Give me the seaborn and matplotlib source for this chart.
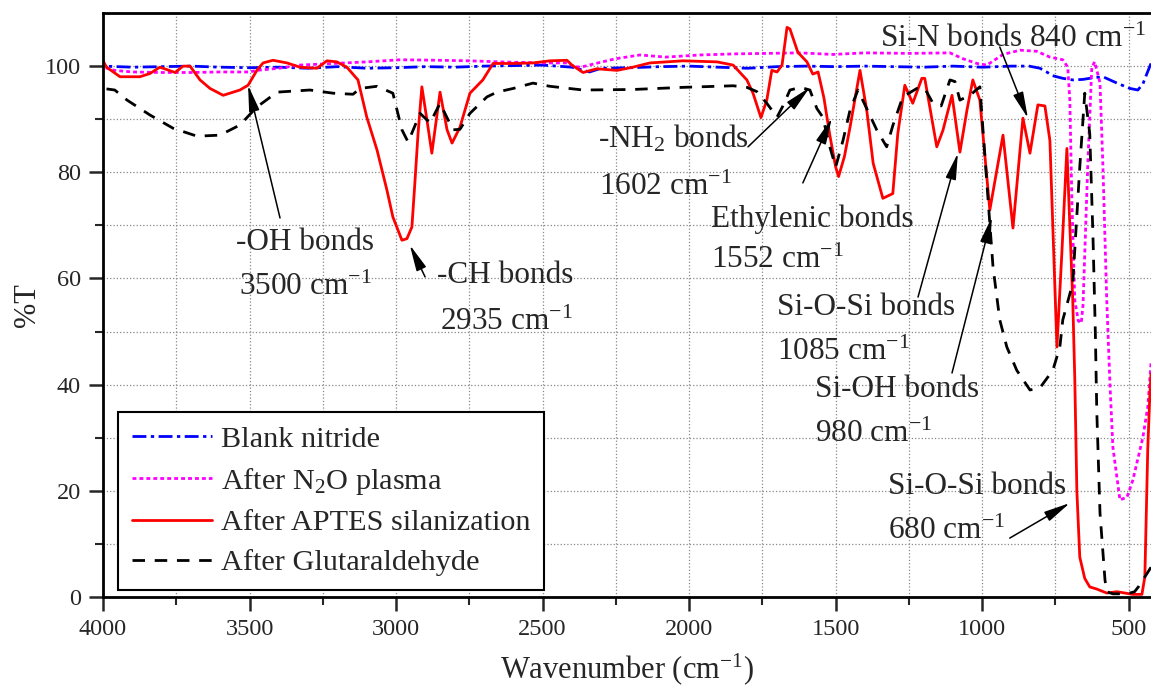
import numpy as np
import pandas as pd
import matplotlib
matplotlib.use("Agg")
import matplotlib.pyplot as plt
import seaborn as sns

# Espectros FTIR (numero de onda em cm-1, %T)
wn_blank = [4000, 3900, 3800, 3700, 3600, 3500, 3400, 3300, 3200, 3100, 3000, 2900, 2800, 2700,
            2600, 2500, 2400, 2340, 2300, 2200, 2100, 2000, 1900, 1800, 1700, 1600, 1500, 1400,
            1300, 1200, 1100, 1000, 900, 840, 803, 780, 760, 725, 691, 656, 622, 588, 540, 496,
            469, 452, 435, 424]
t_blank = [100.0, 99.8, 99.9, 100.0, 99.8, 99.7, 99.8, 99.6, 99.9, 99.6, 99.7, 99.9, 99.8, 100.0,
           100.1, 100.2, 99.8, 98.9, 99.6, 99.7, 99.9, 100.0, 99.8, 99.6, 99.9, 100.0, 99.9, 100.0,
           99.9, 99.8, 100.0, 99.8, 100.0, 100.0, 99.6, 98.9, 98.2, 97.7, 97.4, 97.5, 97.8, 98.0,
           96.8, 95.8, 95.5, 96.6, 99.0, 100.5]

wn_n2o = [4000, 3960, 3900, 3800, 3700, 3600, 3500, 3475, 3400, 3328, 3250, 3100, 2987, 2850,
          2748, 2645, 2500, 2417, 2390, 2370, 2304, 2250, 2168, 2080, 1963, 1850, 1735, 1622,
          1509, 1400, 1250, 1110, 1066, 1018, 984, 929, 871, 814, 769, 725, 708, 701, 694, 684,
          672, 662, 656, 640, 626, 616, 598, 588, 575, 564, 554, 530, 506, 486, 452, 435, 424]
t_n2o = [99.8, 99.2, 98.9, 98.8, 98.8, 98.9, 98.9, 99.2, 99.6, 100.2, 100.4, 100.8, 101.2, 101.1,
         101.0, 100.8, 100.6, 100.6, 99.9, 99.8, 100.7, 101.4, 102.1, 101.7, 102.1, 102.3, 102.4,
         102.5, 102.2, 102.5, 102.4, 102.5, 101.4, 100.5, 100.2, 102.2, 103.0, 102.8, 101.7, 101.2,
         99.8, 93.6, 74.8, 55.9, 52.0, 51.6, 55.0, 81.0, 99.8, 100.8, 96.8, 81.0, 55.9, 40.0, 28.2,
         18.3, 18.8, 22.0, 30.0, 35.8, 44.0]

wn_aptes = [4000, 3988, 3942, 3874, 3840, 3806, 3754, 3727, 3703, 3669, 3635, 3590, 3533, 3505,
            3475, 3454, 3420, 3372, 3328, 3270, 3236, 3202, 3168, 3130, 3100, 3065, 3031, 3011,
            2980, 2963, 2946, 2936, 2925, 2912, 2895, 2878, 2850, 2826, 2809, 2782, 2748, 2704,
            2669, 2600, 2533, 2475, 2417, 2400, 2362, 2315, 2246, 2192, 2134, 2021, 1905, 1850,
            1803, 1782, 1755, 1735, 1718, 1700, 1683, 1666, 1656, 1629, 1598, 1578, 1560, 1540,
            1520, 1500, 1490, 1470, 1451, 1417, 1394, 1372, 1339, 1305, 1288, 1264, 1237, 1206,
            1196, 1155, 1134, 1103, 1076, 1052, 1032, 1008, 974, 929, 895, 861, 837, 810, 786,
            769, 745, 728, 711, 701, 691, 684, 677, 667, 650, 633, 609, 575, 540, 486, 455, 445,
            435, 428, 424]
t_aptes = [101.0, 99.8, 98.0, 98.0, 98.6, 99.8, 98.8, 100.0, 100.0, 97.4, 95.8, 94.5, 95.5, 96.4,
           99.2, 100.6, 101.1, 100.6, 99.8, 99.6, 101.0, 100.8, 99.8, 97.4, 90.4, 84.2, 76.6, 71.6,
           67.2, 67.5, 69.7, 77.9, 87.3, 96.1, 90.0, 83.6, 95.1, 88.0, 85.5, 88.5, 94.9, 97.4,
           100.5, 100.5, 100.6, 101.0, 101.1, 100.2, 98.8, 99.5, 99.2, 99.8, 100.6, 101.0, 100.8, 100.2,
           97.4, 94.9, 90.3, 93.6, 99.2, 98.9, 100.2, 107.3, 107.0, 102.6, 100.8, 98.5, 98.9, 94.0,
           87.0, 81.0, 79.2, 83.0, 88.5, 99.2, 91.7, 81.7, 75.1, 76.0, 87.3, 96.4, 93.0, 97.7,
           97.7, 84.8, 87.9, 94.5, 83.8, 91.7, 97.4, 93.6, 72.9, 87.0, 69.5, 90.2, 83.6, 92.7, 92.5,
           86.0, 47.1, 65.0, 84.5, 70.0, 56.0, 41.0, 20.0, 7.5, 3.5, 1.9, 1.5, 0.75, 1.0, 0.5, 0.5, 3.8,
           28.0, 38.0, 42.0]

wn_glut = [4000, 3960, 3918, 3840, 3761, 3679, 3601, 3533, 3475, 3406, 3294, 3215, 3147, 3123,
           3065, 3011, 2980, 2959, 2918, 2884, 2850, 2806, 2782, 2748, 2690, 2656, 2600, 2533,
           2475, 2362, 2192, 2021, 1850, 1803, 1769, 1735, 1700, 1680, 1656, 1620, 1588, 1564,
           1544, 1520, 1500, 1475, 1451, 1424, 1394, 1360, 1326, 1305, 1271, 1223, 1196, 1168,
           1140, 1110, 1093, 1076, 1042, 1008, 984, 963, 940, 916, 882, 837, 803, 759, 735, 725,
           691, 667, 650, 633, 622, 614, 609, 598, 581, 575, 554, 506, 480, 466, 452, 424]
t_glut = [95.8, 95.5, 93.6, 90.8, 88.3, 86.8, 87.0, 88.9, 92.3, 95.1, 95.5, 94.9, 94.7, 95.8,
          96.2, 94.9, 88.0, 85.7, 91.1, 89.3, 93.0, 88.0, 88.1, 91.1, 94.2, 95.1, 95.8, 96.8,
          96.2, 95.5, 95.6, 96.0, 96.3, 96.0, 95.2, 93.0, 90.4, 92.5, 95.5, 96.0, 95.5, 92.0,
          90.4, 84.8, 81.0, 86.0, 91.7, 95.5, 92.0, 88.0, 84.8, 88.8, 94.2, 95.8, 95.8, 93.0,
          92.5, 97.4, 97.1, 93.6, 94.5, 96.1, 77.9, 62.1, 52.2, 47.1, 42.7, 39.0, 39.4, 42.7, 47.1,
          52.2, 59.1, 81.0, 94.9, 87.3, 68.0, 50.0, 35.0, 15.8, 3.2, 1.0, 0.6, 0.6, 1.0, 2.0, 3.2, 5.6]

labels = ["Blank nitride", "After N$_2$O plasma", "After APTES silanization", "After Glutaraldehyde"]

sns.set_style("ticks")
plt.rcParams['font.family'] = ['Liberation Serif', 'DejaVu Serif']
plt.rcParams['mathtext.fontset'] = 'custom'
plt.rcParams['mathtext.rm'] = 'Liberation Serif'
plt.rcParams['mathtext.it'] = 'Liberation Serif:italic'

fig = plt.figure(figsize=(11.51, 6.86), dpi=100)
ax = fig.add_axes([0.0895, 0.1297, 0.9105, 0.8513])

series = [
    (wn_blank, t_blank, "#0000ff", (0, (5, 1.6, 1.2, 1.6))),
    (wn_n2o, t_n2o, "#ff00ff", (0, (1.4, 1.1))),
    (wn_aptes, t_aptes, "#ff0000", "-"),
    (wn_glut, t_glut, "#000000", (0, (4.5, 3.5))),
]
for (wn, t, cor, estilo), nome in zip(series, labels):
    df = pd.DataFrame({"wn": wn, "T": t})
    sns.lineplot(data=df, x="wn", y="T", color=cor, linestyle=estilo, lw=2.0,
                 estimator=None, ax=ax, label=nome)

ax.set_xlim(4000, 424)
ax.set_ylim(0, 110)
ax.set_xticks([4000, 3500, 3000, 2500, 2000, 1500, 1000, 500])
ax.set_xticks(np.arange(3750, 400, -500), minor=True)
ax.set_yticks([0, 20, 40, 60, 80, 100])
ax.set_yticks([10, 30, 50, 70, 90], minor=True)
ax.grid(True, which='both', linestyle=':', color='#888888', lw=0.9)
ax.set_axisbelow(True)
ax.tick_params(which='major', direction='out', length=10, width=1.8, labelsize=17.5, pad=6)
ax.tick_params(which='minor', direction='out', length=6, width=1.5)
for lado in ['left', 'bottom', 'top']:
    ax.spines[lado].set_linewidth(2)
    ax.spines[lado].set_color('black')
ax.spines['right'].set_visible(False)

ax.set_xlabel("Wavenumber (cm$^{-1}$)", fontsize=22, labelpad=8)
ax.set_ylabel("%T", fontsize=22, labelpad=2)

leg = ax.legend(loc='upper left', bbox_to_anchor=(0.0143, 0.3168), borderaxespad=0,
                fontsize=21.8, frameon=True, fancybox=False, framealpha=1, edgecolor='black',
                handlelength=2.65, handletextpad=0.3, labelspacing=0.42, borderpad=0.45)
leg.get_frame().set_linewidth(1.5)

# Anotacoes das bandas
fs = 22.5
textos = [
    (3546, 65.3, "-OH bonds"), (3536, 56.9, "3500 cm$^{-1}$"),
    (2860, 59.1, "-CH bonds"), (2850, 50.3, "2935 cm$^{-1}$"),
    (2311, 84.7, "-NH$_2$ bonds"), (2308, 75.7, "1602 cm$^{-1}$"),
    (1926, 69.7, "Ethylenic bonds"), (1926, 62.0, "1552 cm$^{-1}$"),
    (1349, 103.6, "Si-N bonds 840 cm$^{-1}$"),
    (1700, 53.1, "Si-O-Si bonds"), (1700, 44.6, "1085 cm$^{-1}$"),
    (1571, 37.7, "Si-OH bonds"), (1571, 29.2, "980 cm$^{-1}$"),
    (1322, 19.4, "Si-O-Si bonds"), (1322, 10.9, "680 cm$^{-1}$"),
]
for x, y, s in textos:
    ax.text(x, y, s, fontsize=fs, ha='left', va='baseline')

setas = [
    ((3505, 96.4), (3396, 71.4)),
    ((2953, 66.3), (2901, 60.3)),
    ((1588, 96.0), (1799, 84.8)),
    ((1513, 90.2), (1612, 78.0)),
    ((844, 90.2), (940, 103.6)),
    ((1083, 83.6), (1219, 56.5)),
    ((967, 71.6), (1103, 42.2)),
    ((701, 17.7), (906, 11.1)),
]
for ponta, base in setas:
    ax.annotate('', xy=ponta, xytext=base,
                arrowprops=dict(arrowstyle='-|>,head_length=0.8,head_width=0.16', color='black',
                                lw=1.1, shrinkA=0, shrinkB=0, mutation_scale=20))

fig.savefig("out.png", dpi=100)
